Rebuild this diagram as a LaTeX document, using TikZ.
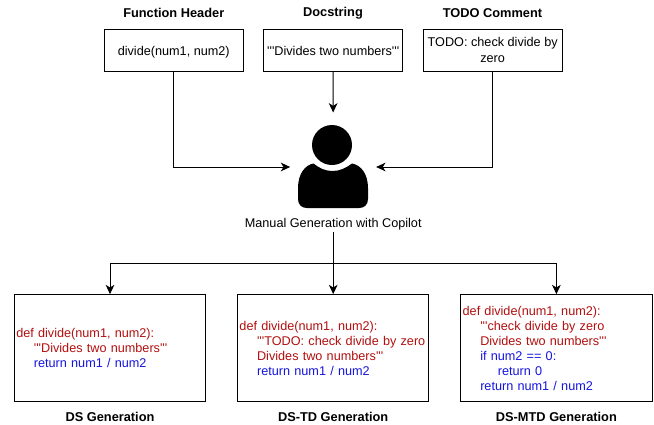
\documentclass[tikz,border=0pt]{standalone}
\usepackage{fontspec}
\setmainfont{Liberation Sans}
\usetikzlibrary{arrows.meta}
\definecolor{defred}{HTML}{B20F0F}
\definecolor{retblue}{HTML}{1414E0}
\newcommand{\tq}{\textquotesingle\textquotesingle\textquotesingle}
\newcommand{\tab}{\hspace*{13.2pt}}
\tikzset{
  inbox/.style={draw,line width=.75pt,minimum width=104pt,minimum height=31.5pt,inner sep=1pt,align=center,font=\fontsize{9.5}{11.25}\selectfont},
  oneline/.style={text height=10.5pt,text depth=2.4pt},
  genbox/.style={draw,line width=.75pt,minimum width=143.6pt,minimum height=80pt,inner sep=1.5pt,text width=140.6pt,align=left,font=\fontsize{9.5}{11.25}\selectfont},
  title/.style={font=\fontsize{9.6}{11.25}\selectfont\bfseries,inner sep=1pt},
}

\begin{document}
\begin{tikzpicture}[x=.75pt,y=-.75pt,>={Stealth[length=7pt,width=6.5pt,inset=2pt]},line width=.75pt]
  \useasboundingbox (0,0) rectangle (654,425);

  % inputs
  \node[inbox,oneline] (header) at (173.75,50) {divide(num1, num2)};
  \node[inbox,oneline,node distance=119.6pt] (docstring) [right of=header] {\tq Divides two numbers\tq};
  \node[inbox,node distance=119.6pt] (todo) [right of=docstring] {TODO: check divide by\\[1.2pt]zero};

  \node[title] at (173.75,13) (headertitle) {Function Header};
  \node[title] at (333,13) (docstringtitle) {Docstring};
  \node[title] at (492.5,13) (todotitle) {TODO Comment};

  % person
  \node[minimum width=63.75pt,minimum height=81pt,inner sep=0pt] (user) at (333.15,167) {};
  \node[circle,fill=black,minimum size=30pt,inner sep=0pt] (head) at (332,145) {};
  \fill (332.5,171) .. controls (325,171) and (319,168) .. (313.5,163.5)
    .. controls (305,165) and (298,174) .. (298,188) -- (298,199)
    .. controls (298,205) and (302,208) .. (307,208) -- (359,208)
    .. controls (364,208) and (368,205) .. (368,199) -- (368,188)
    .. controls (368,174) and (361,165) .. (352,163.5)
    .. controls (346,168) and (340,171) .. (332.5,171) -- cycle;
  \node[font=\fontsize{9.5}{11.25}\selectfont,inner sep=1.5pt] (copilot) at (333.2,224) {Manual Generation with Copilot};

  % outputs
  \node[genbox] (ds) at (110,348) {\color{defred}def divide(num1, num2):\\
    \tab\tq Divides two numbers\tq\\
    \color{retblue}\tab return num1 / num2};
  \node[genbox,node distance=167.4pt] (dstd) [right of=ds] {\color{defred}def divide(num1, num2):\\
    \mbox{\tab\tq TODO: check divide by zero}\\
    \tab Divides two numbers\tq\\
    \color{retblue}\tab return num1 / num2};
  \node[genbox,node distance=167.4pt] (dsmtd) [right of=dstd] {\color{defred}def divide(num1, num2):\\
    \tab\tq check divide by zero\\
    \tab Divides two numbers\tq\\
    \color{retblue}\tab if num2 == 0:\\
    \tab\tab return 0\\
    \tab return num1 / num2};

  \node[title] at (110,417) (dstitle) {DS Generation};
  \node[title] at (333.2,417) (dstdtitle) {DS-TD Generation};
  \node[title] at (556.4,417) (dsmtdtitle) {DS-MTD Generation};

  \coordinate (split) at (copilot.south |- 0,263);

  \draw[->] (header.south) |- (user.west);
  \draw[->] (docstring.south) -- (user.north);
  \draw[->] (todo.south) |- (user.east);

  \draw[->] (copilot.south) -- (dstd.north);
  \draw[->] (split) -| (ds.north);
  \draw[->] (split) -| (dsmtd.north);
\end{tikzpicture}
\end{document}
